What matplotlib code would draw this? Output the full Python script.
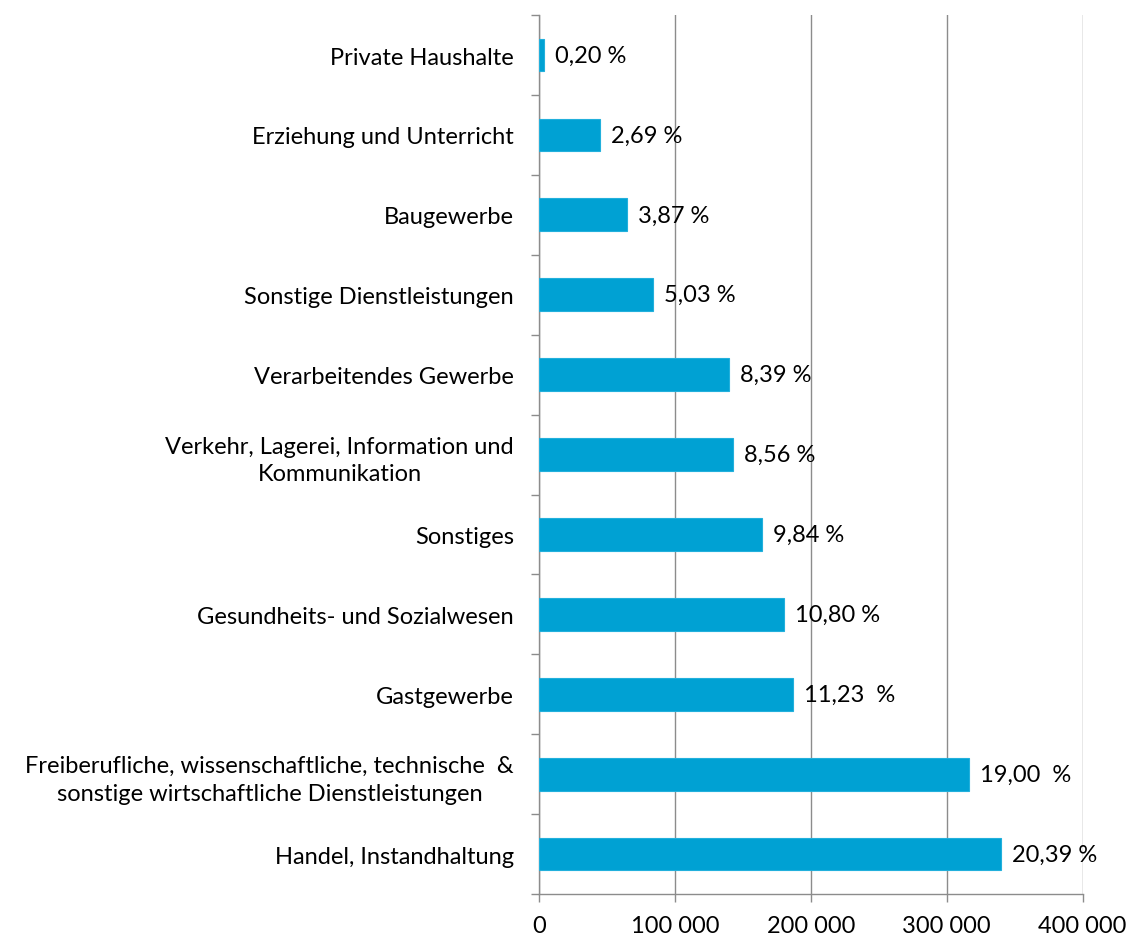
import matplotlib.pyplot as plt
from matplotlib.ticker import FuncFormatter, FixedLocator

# categories from bottom to top
categories = [
    'Handel, Instandhaltung',
    'Freiberufliche, wissenschaftliche, technische  &\nsonstige wirtschaftliche Dienstleistungen',
    'Gastgewerbe',
    'Gesundheits- und Sozialwesen',
    'Sonstiges',
    'Verkehr, Lagerei, Information und\nKommunikation',
    'Verarbeitendes Gewerbe',
    'Sonstige Dienstleistungen',
    'Baugewerbe',
    'Erziehung und Unterricht',
    'Private Haushalte',
]
values = [339700, 316600, 187100, 180000, 164000, 142600, 139800, 83800, 64500, 44800, 3300]
pct_labels = ['20,39 %', '19,00  %', '11,23  %', '10,80 %', '9,84 %', '8,56 %',
              '8,39 %', '5,03 %', '3,87 %', '2,69 %', '0,20 %']
x_ticks = [0, 100000, 200000, 300000, 400000]

plt.rcParams['font.family'] = ['Lato', 'DejaVu Sans']
grey = '#8c8c8c'
fs = 17

fig = plt.figure(figsize=(11.42, 9.37), dpi=100)
ax = fig.add_axes([0.472, 0.0448, 0.476, 0.938])

y = list(range(len(categories)))
ax.barh(y, values, height=0.41, color='#00A1D3', edgecolor='#22B0DC', linewidth=0.8, zorder=3)

for yi, v, lab in zip(y, values, pct_labels):
    ax.annotate(lab, (v, yi), xytext=(8, 0), textcoords='offset points',
                va='center', ha='left', fontsize=fs, color='black', zorder=4)

ax.set_xlim(0, 400000)
ax.set_ylim(-0.5, len(categories) - 0.5)
ax.set_xticks(x_ticks)
ax.xaxis.set_major_formatter(FuncFormatter(lambda v, p: f'{int(v):,}'.replace(',', ' ')))
ax.set_yticks(y)
ax.set_yticklabels(categories, multialignment='center', linespacing=1.4)
ax.yaxis.set_minor_locator(FixedLocator([i - 0.5 for i in range(len(categories) + 1)]))

ax.tick_params(axis='y', which='major', length=0, pad=18, labelsize=fs)
ax.tick_params(axis='y', which='minor', length=6, width=1, color=grey, direction='out')
ax.tick_params(axis='x', which='major', length=6, width=1, color=grey, pad=9, labelsize=fs)

ax.grid(axis='x', color=grey, linewidth=1, zorder=0)
ax.set_axisbelow(True)
for s in ['top', 'right']:
    ax.spines[s].set_visible(False)
for s in ['left', 'bottom']:
    ax.spines[s].set_color(grey)
    ax.spines[s].set_linewidth(1)

fig.savefig('out.png', dpi=100)
